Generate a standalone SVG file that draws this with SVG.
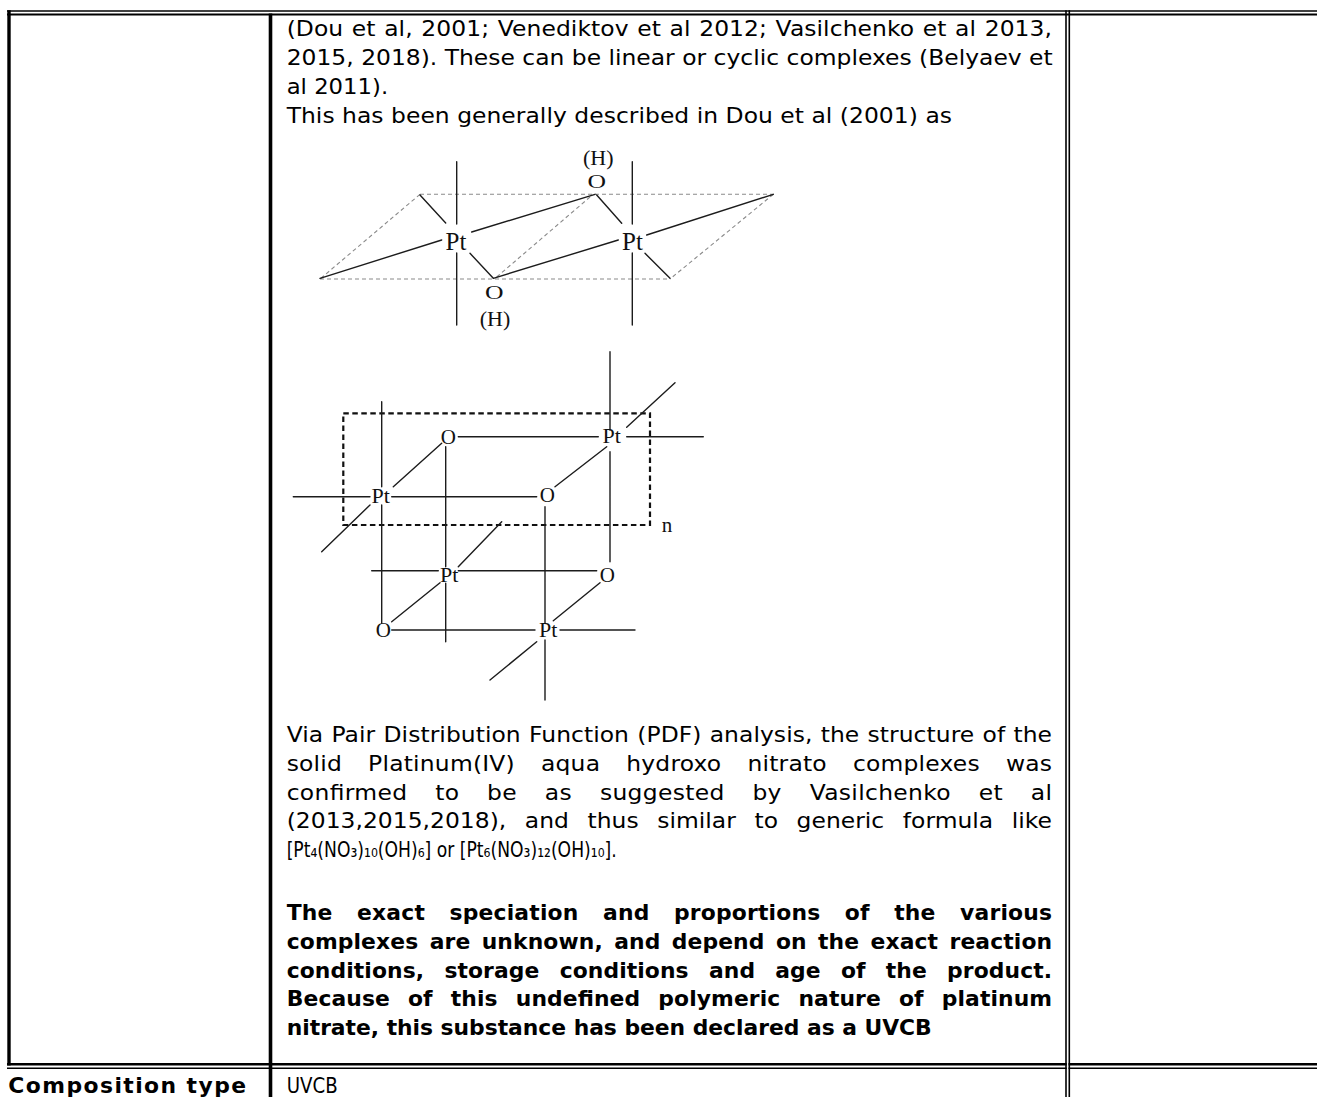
<svg xmlns="http://www.w3.org/2000/svg" width="1317" height="1097" viewBox="0 0 1317 1097">
<style>
.t{font-family:"DejaVu Sans",sans-serif;font-size:21px;fill:#000}
.b{font-weight:bold}
.grid{stroke:#000;fill:none}
.chem{font-family:"Liberation Serif","Times New Roman",serif;fill:#111;text-anchor:middle}
.bond{stroke:#1c1c1c;stroke-width:1.4;fill:none;stroke-linecap:round}
.dash{stroke:#8a8a8a;stroke-width:1.1;fill:none;stroke-dasharray:4 3}
.dbox{stroke:#111;stroke-width:2.2;fill:none;stroke-dasharray:5.5 3.5}
</style>
<rect width="1317" height="1097" fill="#fff"/>

<g id="table-grid" class="grid">
  <line x1="7" y1="11" x2="1317" y2="11" stroke-width="1.5"/>
  <line x1="7" y1="14.5" x2="1317" y2="14.5" stroke-width="2"/>
  <line x1="9" y1="10.3" x2="9" y2="1065.5" stroke-width="3.4"/>
  <line x1="270.5" y1="13.5" x2="270.5" y2="1097" stroke-width="3.6"/>
  <line x1="7" y1="1064.3" x2="1066.8" y2="1064.3" stroke-width="2.5"/>
  <line x1="1068.5" y1="1064.3" x2="1317" y2="1064.3" stroke-width="2.5"/>
  <line x1="7" y1="1068.3" x2="1066.8" y2="1068.3" stroke-width="1.5"/>
  <line x1="1068.5" y1="1068.3" x2="1317" y2="1068.3" stroke-width="1.5"/>
  <line x1="1066" y1="10.3" x2="1066" y2="1097" stroke-width="1.6"/>
  <line x1="1069.3" y1="10.3" x2="1069.3" y2="1097" stroke-width="1.6"/>
</g>

<g id="text-regular" class="t" transform="scale(1.115 1)">
  <text x="257.1" y="36.5" textLength="686.4" lengthAdjust="spacing" word-spacing="1">(Dou et al, 2001; Venediktov et al 2012; Vasilchenko et al 2013,</text>
  <text x="257.1" y="65.3" textLength="687" lengthAdjust="spacing">2015, 2018). These can be linear or cyclic complexes (Belyaev et</text>
  <text x="257.1" y="94.1" textLength="91" lengthAdjust="spacingAndGlyphs">al 2011).</text>
  <text x="257.1" y="122.9" textLength="596.7" lengthAdjust="spacing">This has been generally described in Dou et al (2001) as</text>

  <text x="257.1" y="742" textLength="686.4" lengthAdjust="spacing" word-spacing="0.7">Via Pair Distribution Function (PDF) analysis, the structure of the</text>
  <text x="257.1" y="770.8" textLength="686.4" lengthAdjust="spacing" word-spacing="16.5">solid Platinum(IV) aqua hydroxo nitrato complexes was</text>
  <text x="257.1" y="799.6" textLength="686.4" lengthAdjust="spacing" word-spacing="18">confirmed to be as suggested by Vasilchenko et al</text>
  <text x="257.1" y="828.4" textLength="686.4" lengthAdjust="spacing" word-spacing="10">(2013,2015,2018), and thus similar to generic formula like</text>
  <text x="257.1" y="857.2" textLength="296" lengthAdjust="spacingAndGlyphs">[Pt₄(NO₃)₁₀(OH)₆] or [Pt₆(NO₃)₁₂(OH)₁₀].</text>

  <text x="257.1" y="1093" textLength="45.7" lengthAdjust="spacingAndGlyphs">UVCB</text>
</g>

<g id="text-bold" class="t b" transform="scale(1.04 1)">
  <text x="275.7" y="920" textLength="735.9" lengthAdjust="spacing" word-spacing="16">The exact speciation and proportions of the various</text>
  <text x="275.7" y="948.8" textLength="735.9" lengthAdjust="spacing" word-spacing="3.5">complexes are unknown, and depend on the exact reaction</text>
  <text x="275.7" y="977.6" textLength="735.9" lengthAdjust="spacing" word-spacing="12">conditions, storage conditions and age of the product.</text>
  <text x="275.7" y="1006.4" textLength="735.9" lengthAdjust="spacing" word-spacing="10">Because of this undefined polymeric nature of platinum</text>
  <text x="275.7" y="1035.2" textLength="620.2" lengthAdjust="spacing">nitrate, this substance has been declared as a UVCB</text>
  <text x="8" y="1093" textLength="228.6" lengthAdjust="spacing">Composition type</text>
</g>

<g id="struct1">
  <path class="dash" d="M420,194.3 H773.3 M320,279 H670 M420,194.3 L320,279 M773.3,194.3 L670,279 M496.7,277 L590,197"/>
  <path class="bond" d="M456.7,161.7 V224 M456.7,253 V325 M632.3,161.7 V224 M632.3,253 V325
    M420,195 L445.7,223 M320,278.3 L441.7,240 M471.7,232 L595,194.3 M596.7,195 L621.7,223.3
    M470,253.3 L493.3,278.3 M493.3,278.3 L618.3,240 M646.7,235 L773.3,194.3 M645,253.3 L670,278.3"/>
  <text class="chem" x="456" y="250" font-size="25">Pt</text>
  <text class="chem" x="632.5" y="250" font-size="25">Pt</text>
  <text class="chem" font-size="19" transform="translate(596.7 188) scale(1.35 1)">O</text>
  <text class="chem" x="598.3" y="165" font-size="22">(H)</text>
  <text class="chem" font-size="19" transform="translate(494.3 299) scale(1.35 1)">O</text>
  <text class="chem" x="495" y="326" font-size="22">(H)</text>
</g>

<g id="struct2">
  <rect class="dbox" x="343.3" y="413.3" width="306.7" height="111.7"/>
  <path class="bond" d="M293.3,496.7 H370 M391.7,496.7 H536.7 M458.3,436.7 H598.3 M626.7,436.7 H703.3
    M371.7,570.7 H438.3 M458.3,570.7 H596.7 M391.7,630 H535 M560,630 H635
    M381.7,401.7 V486.7 M381.7,505 V623.3 M445.7,446.7 V566.7 M445.7,583.3 V641.7
    M610,351.7 V430 M610,451.7 V561.7 M545,506.7 V623.3 M545,640 V700
    M393.3,486.7 L441.7,443.3 M370,505 L321.7,551.7 M555,486.7 L606.7,446.7 M626.7,427.3 L675,382.7
    M458.3,566.7 L501.7,521.7 M391.7,621.7 L440,582.7 M553.3,620.7 L600,582.7 M536.7,641.7 L490,680"/>
  <g font-size="22">
    <text class="chem" x="380.7" y="503.3">Pt</text>
    <text class="chem" x="611.7" y="443.3">Pt</text>
    <text class="chem" x="449.3" y="582.3">Pt</text>
    <text class="chem" x="548.3" y="636.7">Pt</text>
  </g>
  <g font-size="21">
    <text class="chem" x="448.3" y="444">O</text>
    <text class="chem" x="547.3" y="502.3">O</text>
    <text class="chem" x="607.3" y="581.7">O</text>
    <text class="chem" x="383.3" y="636.7">O</text>
  </g>
  <text class="chem" x="667" y="531.7" font-size="21">n</text>
</g>
</svg>
